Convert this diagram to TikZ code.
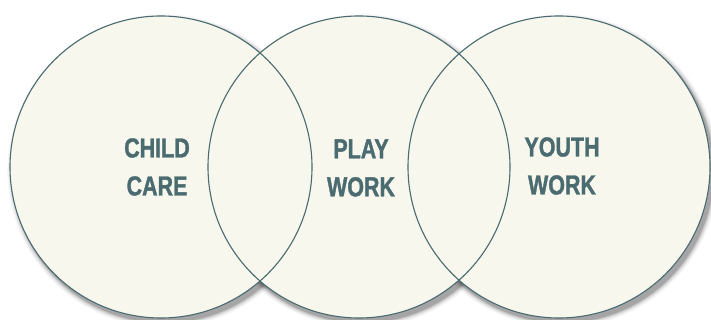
\documentclass[tikz,border=0pt]{standalone}
\usepackage{fontspec}
\newfontfamily\lblfont{Liberation Sans}[
  FakeStretch=0.78,
  BoldFont={Liberation Sans Bold},
  BoldFeatures={FakeStretch=0.78,FakeBold=1.2}]
\definecolor{ring}{HTML}{4A6B70}
\definecolor{paper}{HTML}{F7F7ED}
\begin{document}
\begin{tikzpicture}[x=1pt,y=-1pt,
  area/.style={circle,minimum size=302pt,inner sep=0pt},
  areafill/.style={area,fill=paper},
  arealine/.style={area,draw=ring,line width=1.1pt},
  lbl/.style={align=center,inner sep=0pt,text=ring,
    font=\lblfont\bfseries\fontsize{27.5}{38}\selectfont}]
\useasboundingbox (0,0) rectangle (711,320);
% soft shadows below the three areas
\foreach \cx in {161,359,559}{
  \foreach \k/\op in {8/0.035,6/0.05,4.5/0.06,3/0.08,2/0.09,1/0.1}{
    \fill[black,opacity=\op] (\cx+3,171) circle (151+\k*0.7);
  }
}
% paper-coloured discs
\node[areafill] (care) at (161,167) {};
\node[areafill] (play) at (359,167) {};
\node[areafill] (youth) at (559,167) {};
% outlines on top so every arc shows
\node[arealine] (careo) at (care.center) {};
\node[arealine] (playo) at (play.center) {};
\node[arealine] (youtho) at (youth.center) {};
% labels
\node[lbl] (t1) at (157,167) {CHILD\\CARE};
\node[lbl] (t2) at (361,168) {PLAY\\WORK};
\node[lbl] (t3) at (562,166) {YOUTH\\WORK};
\end{tikzpicture}
\end{document}
